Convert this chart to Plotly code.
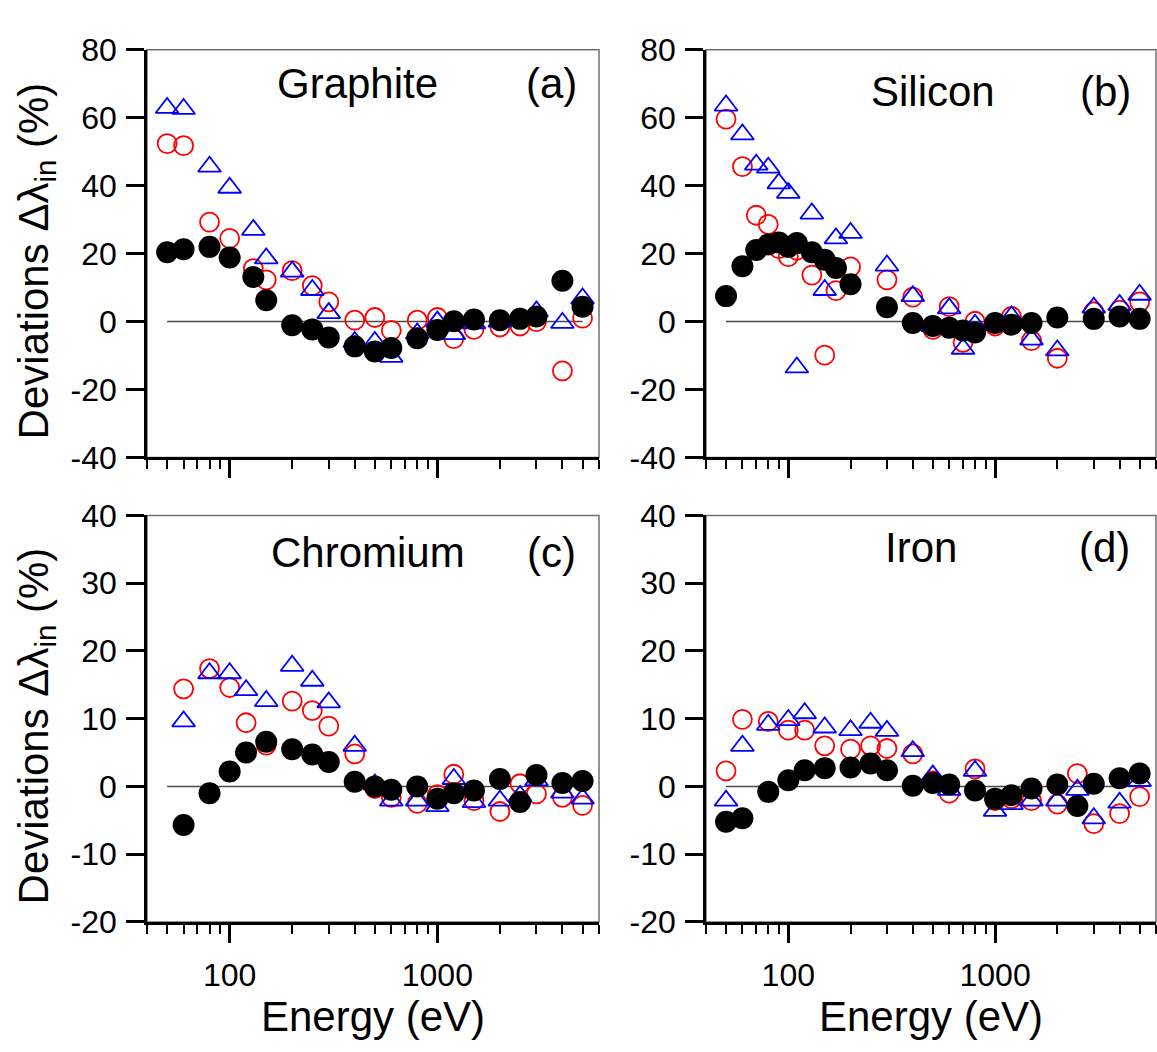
import math
import plotly.graph_objects as go

# ---------------- data ----------------
E_graphite = [50, 60, 80, 100, 130, 150, 200, 250, 300, 400, 500, 600, 800, 1000, 1200, 1500, 2000, 2500, 3000, 4000, 5000]
graphite_tri = [62.9, 62.6, 45.6, 39.4, 27.0, 18.6, 14.7, 9.3, 2.5, -6.0, -6.0, -10.4, -3.5, 0.0, -3.7, -0.5, 0.0, 0.8, 3.0, -0.4, 6.8]
graphite_circ = [52.4, 51.8, 29.3, 24.5, 15.6, 12.3, 15.0, 10.6, 5.8, 0.4, 1.2, -2.6, 0.4, 1.2, -5.0, -2.3, -1.6, -1.3, 0.0, -14.5, 1.0]
graphite_fill = [20.4, 21.3, 22.0, 18.9, 13.1, 6.3, -1.1, -2.3, -4.7, -7.3, -8.8, -7.8, -4.9, -2.5, 0.1, 0.6, 0.4, 0.8, 1.5, 12.0, 4.4]

E_silicon = [50, 60, 70, 80, 90, 100, 110, 130, 150, 170, 200, 300, 400, 500, 600, 700, 800, 1000, 1200, 1500, 2000, 3000, 4000, 5000]
silicon_tri = [63.6, 55.1, 46.2, 45.3, 40.7, 37.9, -13.5, 31.8, 9.3, 24.5, 26.1, 16.5, 7.5, -1.3, 3.9, -8.0, -0.9, -0.4, 1.5, -5.3, -8.5, 4.1, 4.9, 7.9]
silicon_circ = [59.6, 45.6, 31.3, 28.6, 21.5, 19.1, 21.0, 13.7, -9.9, 9.1, 16.1, 12.3, 7.2, -2.3, 4.4, -6.1, 0.1, -1.3, 1.5, -5.6, -10.8, 2.9, 3.4, 5.8]
silicon_fill = [7.5, 16.3, 21.1, 22.7, 23.3, 22.0, 23.1, 20.4, 18.2, 15.8, 11.0, 4.2, -0.4, -1.3, -1.8, -2.6, -3.2, -0.4, -0.9, -0.4, 1.2, 0.8, 1.5, 0.8]

E_chromium = [60, 80, 100, 120, 150, 200, 250, 300, 400, 500, 600, 800, 1000, 1200, 1500, 2000, 2500, 3000, 4000, 5000]
chromium_tri = [9.6, 16.7, 16.7, 14.2, 12.6, 17.8, 15.6, 12.4, 6.0, 0.3, -2.1, -2.1, -2.9, 1.1, -2.3, -2.1, -1.4, 0.9, -0.9, -1.8]
chromium_circ = [14.4, 17.4, 14.6, 9.4, 6.1, 12.6, 11.2, 8.9, 4.8, -0.3, -1.6, -2.5, -1.2, 1.8, -2.1, -3.7, 0.4, -1.1, -1.6, -2.8]
chromium_fill = [-5.7, -1.0, 2.2, 5.0, 6.6, 5.5, 4.7, 3.6, 0.7, 0.0, -0.5, 0.0, -1.8, -1.0, -0.6, 1.1, -2.3, 1.7, 0.5, 0.8]

E_iron = [50, 60, 80, 100, 120, 150, 200, 250, 300, 400, 500, 600, 800, 1000, 1200, 1500, 2000, 2500, 3000, 4000, 5000]
iron_tri = [-2.1, 6.0, 9.1, 9.8, 10.8, 8.7, 8.3, 9.4, 8.2, 5.2, 1.6, -0.5, 2.3, -3.6, -2.6, -2.1, -2.1, -0.5, -4.7, -2.4, 0.8]
iron_circ = [2.3, 9.9, 9.6, 8.3, 8.3, 6.0, 5.5, 6.0, 5.6, 4.8, 0.8, -1.0, 2.6, -2.1, -1.8, -2.1, -2.6, 1.9, -5.5, -4.0, -1.5]
iron_fill = [-5.2, -4.7, -0.8, 0.9, 2.4, 2.7, 2.8, 3.4, 2.4, 0.1, 0.5, 0.3, -0.6, -1.8, -1.3, -0.3, 0.3, -2.9, 0.4, 1.2, 1.9]

zero_line_E = [50, 5000]
zero_line_y = [0, 0]

panel_names = ["Graphite", "Silicon", "Chromium", "Iron"]
panel_tags = ["(a)", "(b)", "(c)", "(d)"]

x_major = [100, 1000]
x_major_text = ["100", "1000"]
x_minor = [40, 50, 60, 70, 80, 90, 200, 300, 400, 500, 600, 700, 800, 900,
           2000, 3000, 4000, 5000, 6000]
y_ticks_top = [-40, -20, 0, 20, 40, 60, 80]
y_ticks_bottom = [-20, -10, 0, 10, 20, 30, 40]

# ---------------- figure ----------------
W, H = 1157, 1052
FONT = "Liberation Sans, Arial, Helvetica, sans-serif"

panels = [
    (E_graphite, graphite_tri, graphite_circ, graphite_fill),
    (E_silicon, silicon_tri, silicon_circ, silicon_fill),
    (E_chromium, chromium_tri, chromium_circ, chromium_fill),
    (E_iron, iron_tri, iron_circ, iron_fill),
]

xdom_left = [147 / W, 599 / W]
xdom_right = [706 / W, 1156 / W]
ydom_top = [1 - 455 / H, 1 - 33 / H]
ydom_bot = [1 - 936 / H, 1 - 515 / H]
domains = [(xdom_left, ydom_top), (xdom_right, ydom_top),
           (xdom_left, ydom_bot), (xdom_right, ydom_bot)]

fig = go.Figure()

for i, (E, tri, circ, fill) in enumerate(panels):
    s = "" if i == 0 else str(i + 1)
    xa, ya = "x" + s, "y" + s
    fig.add_trace(go.Scatter(x=zero_line_E, y=zero_line_y, mode="lines",
                             line=dict(color="#4a4a4a", width=1.5),
                             xaxis=xa, yaxis=ya, showlegend=False, hoverinfo="skip"))
    fig.add_trace(go.Scatter(x=E, y=circ, mode="markers",
                             marker=dict(symbol="circle-open", size=19, color="#ff0000",
                                         line=dict(width=1.8, color="#ff0000")),
                             xaxis=xa, yaxis=ya, showlegend=False))
    fig.add_trace(go.Scatter(x=E, y=tri, mode="markers",
                             marker=dict(symbol="triangle-up-open", size=20, color="#0000ff",
                                         line=dict(width=1.8, color="#0000ff")),
                             xaxis=xa, yaxis=ya, showlegend=False))
    fig.add_trace(go.Scatter(x=E, y=fill, mode="markers",
                             marker=dict(symbol="circle", size=22, color="#000000",
                                         line=dict(width=0)),
                             xaxis=xa, yaxis=ya, showlegend=False))

layout = dict(
    width=W, height=H,
    margin=dict(l=0, r=0, t=0, b=0),
    paper_bgcolor="white", plot_bgcolor="white",
    showlegend=False,
    font=dict(family=FONT, color="black"),
)

shapes = []
annotations = []
for i in range(4):
    s = "" if i == 0 else str(i + 1)
    xd, yd = domains[i]
    bottom = i >= 2
    yt = y_ticks_bottom if bottom else y_ticks_top
    layout["xaxis" + s] = dict(
        type="log", range=[math.log10(40), math.log10(6000)], domain=xd,
        anchor="y" + s, tickmode="array", tickvals=x_major, ticktext=x_major_text,
        ticks="outside", ticklen=18, tickwidth=2.5, tickcolor="black",
        showline=True, linecolor="black", linewidth=2.5, mirror=False,
        showgrid=False, zeroline=False, showticklabels=bottom, ticklabelstandoff=5,
        tickfont=dict(family=FONT, size=32, color="black"),
        minor=dict(tickmode="array", tickvals=x_minor, ticks="outside", ticklen=9,
                   tickwidth=2, tickcolor="black", showgrid=False),
    )
    layout["yaxis" + s] = dict(
        range=[-20, 40] if bottom else [-40, 80], domain=yd, anchor="x" + s,
        tickmode="array", tickvals=yt, ticktext=[str(v) for v in yt],
        ticks="outside", ticklen=18, tickwidth=2.5, tickcolor="black",
        showline=True, linecolor="black", linewidth=2.5, mirror=False,
        showgrid=False, zeroline=False, ticklabelstandoff=3,
        tickfont=dict(family=FONT, size=32, color="black"),
    )
    shapes.append(dict(type="rect", xref="x" + s + " domain", yref="y" + s + " domain",
                       x0=0, x1=1, y0=0, y1=1, line=dict(color="#707070", width=1.5),
                       layer="below"))

name_pos = [(0.465, 0.918), (0.505, 0.898), (0.489, 0.908), (0.478, 0.92)]
tag_pos = [0.896, 0.887, 0.894, 0.886]
for i in range(4):
    s = "" if i == 0 else str(i + 1)
    nx, ny = name_pos[i]
    annotations.append(dict(text=panel_names[i], xref="x" + s + " domain", yref="y" + s + " domain",
                            x=nx, y=ny, xanchor="center", yanchor="middle", showarrow=False,
                            font=dict(family=FONT, size=42, color="black")))
    annotations.append(dict(text=panel_tags[i], xref="x" + s + " domain", yref="y" + s + " domain",
                            x=tag_pos[i], y=ny, xanchor="center", yanchor="middle", showarrow=False,
                            font=dict(family=FONT, size=42, color="black")))

ytitle = "Deviations \u0394\u03bb<sub>in</sub> (%)"
for yc in [(ydom_top[0] + ydom_top[1]) / 2 - 8 / H, (ydom_bot[0] + ydom_bot[1]) / 2 - 8 / H]:
    annotations.append(dict(text=ytitle, xref="paper", yref="paper", x=36 / W, y=yc,
                            xanchor="center", yanchor="middle", textangle=-90, showarrow=False,
                            font=dict(family=FONT, size=42, color="black")))
for xd in [xdom_left, xdom_right]:
    annotations.append(dict(text="Energy (eV)", xref="paper", yref="paper",
                            x=(xd[0] + xd[1]) / 2, y=1 - 1034 / H,
                            xanchor="center", yanchor="middle", showarrow=False,
                            font=dict(family=FONT, size=42, color="black")))

layout["shapes"] = shapes
layout["annotations"] = annotations
fig.update_layout(**layout)

fig.write_html("out.html")
